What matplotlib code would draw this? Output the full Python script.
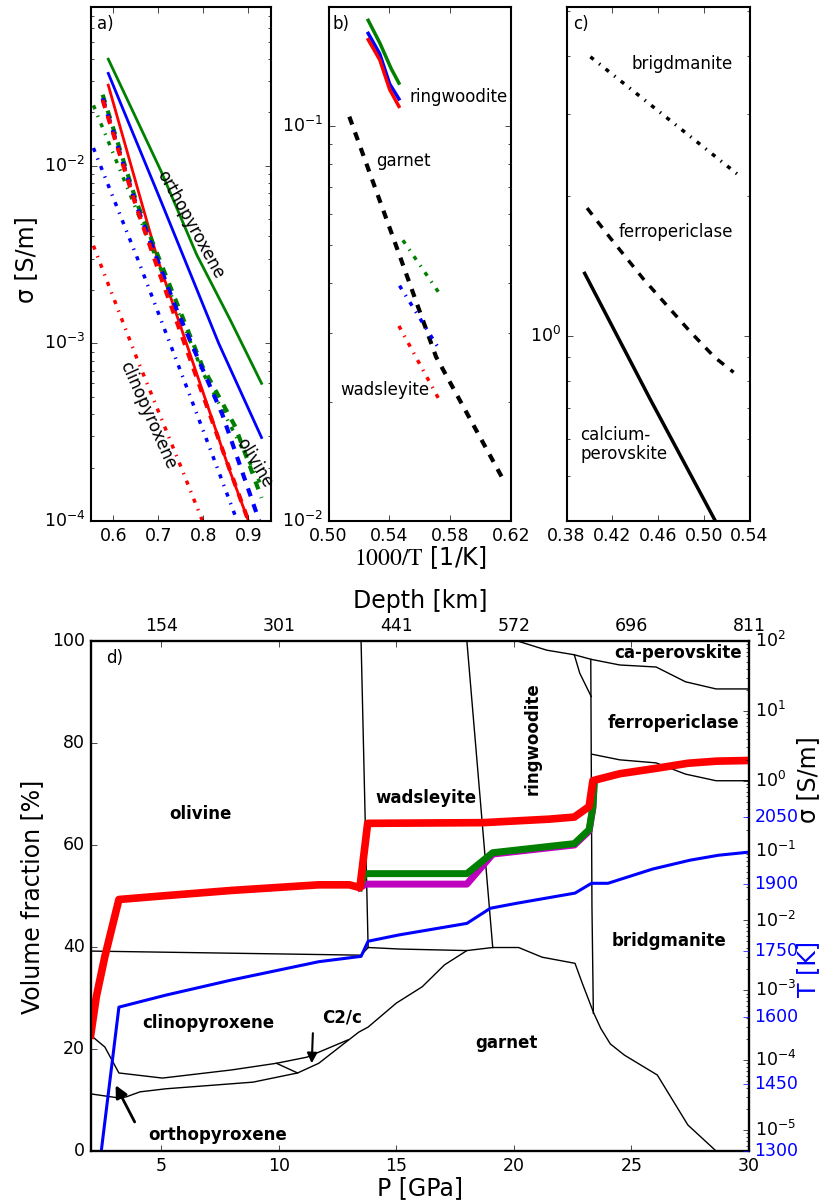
import matplotlib.pyplot as plt
import numpy as np

plt.style.use('classic')
plt.rcParams['figure.facecolor'] = 'white'
plt.rcParams['savefig.facecolor'] = 'white'
plt.rcParams['mathtext.fontset'] = 'dejavusans'
plt.rcParams['font.family'] = ['DejaVu Sans']
plt.rcParams['font.size'] = 12.5
plt.rcParams['axes.linewidth'] = 1.5

# ---------------- panel a) olivine / opx / cpx  (x = 1000/T, y = log10 sigma)
opx_g_x = [0.589, 0.706, 0.785, 0.86, 0.929]
opx_g_y = [-1.40, -2.03, -2.50, -2.87, -3.225]
opx_b_x = [0.589, 0.706, 0.834, 0.929]
opx_b_y = [-1.48, -2.20, -3.00, -3.53]
opx_r_x = [0.589, 0.699, 0.761, 0.856, 0.90]
opx_r_y = [-1.546, -2.531, -2.99, -3.70, -4.0]

ol_g_x = [0.5765, 0.651, 0.739, 0.798, 0.871, 0.929]
ol_g_y = [-1.60, -2.20, -2.76, -3.13, -3.47, -3.87]
ol_b_x = [0.5765, 0.651, 0.739, 0.842, 0.924]
ol_b_y = [-1.62, -2.22, -2.80, -3.40, -4.0]
ol_r_x = [0.5765, 0.651, 0.699, 0.834, 0.90]
ol_r_y = [-1.63, -2.23, -2.58, -3.54, -4.0]

cpx_g_x = [0.556, 0.6145, 0.70, 0.80, 0.929]
cpx_g_y = [-1.66, -2.02, -2.55, -3.17, -3.80]
cpx_b_x = [0.556, 0.655, 0.768, 0.827, 0.875]
cpx_b_y = [-1.90, -2.53, -3.28, -3.675, -4.0]
cpx_r_x = [0.556, 0.651, 0.75, 0.798]
cpx_r_y = [-2.45, -3.075, -3.694, -4.0]

# ---------------- panel b) ringwoodite / garnet / wadsleyite
rw_g_x = [0.5261, 0.5337, 0.5413, 0.5463]
rw_g_y = [-0.732, -0.789, -0.855, -0.891]
rw_b_x = [0.5261, 0.5337, 0.5402, 0.5463]
rw_b_y = [-0.765, -0.817, -0.893, -0.931]
rw_r_x = [0.5261, 0.5337, 0.5402, 0.5463]
rw_r_y = [-0.781, -0.832, -0.907, -0.950]
gt_x = [0.5137, 0.5424, 0.5707, 0.6163]
gt_y = [-0.976, -1.281, -1.584, -1.905]
wd_g_x = [0.5489, 0.5728]
wd_g_y = [-1.289, -1.423]
wd_b_x = [0.5467, 0.5728]
wd_b_y = [-1.404, -1.565]
wd_r_x = [0.5463, 0.5728]
wd_r_y = [-1.506, -1.693]

# ---------------- panel c) lower mantle phases
bm_x = [0.4009, 0.4646, 0.5307]
bm_y = [0.601, 0.476, 0.346]
fp_x = [0.398, 0.4183, 0.4472, 0.4878, 0.5096, 0.5261]
fp_y = [0.2755, 0.211, 0.123, 0.0104, -0.0458, -0.0779]
capv_x = [0.3959, 0.4530, 0.5104]
capv_y = [0.135, -0.135, -0.399]

# ---------------- panel d) phase volume fractions vs pressure
bnd_ol_x = [2.0, 13.5, 13.8, 15.15, 18.0, 19.1, 20.2, 21.2, 22.6, 22.9, 23.4, 23.7,
            24.1, 24.7, 26.1, 27.4, 28.6]
bnd_ol_y = [39.2, 38.4, 39.9, 39.6, 39.3, 39.9, 39.9, 38.0, 36.8, 33.0, 27.0, 24.0,
            21.0, 18.8, 14.9, 5.1, 0.0]
bnd_cpx_x = [2.0, 2.6, 3.2, 5.05, 8.0, 9.9, 11.2, 12.95]
bnd_cpx_y = [22.7, 20.4, 15.3, 14.3, 15.9, 17.2, 18.4, 21.8]
bnd_gt_x = [2.0, 3.2, 3.5, 4.1, 5.2, 8.9, 10.8, 11.7, 12.7, 13.4, 13.8, 15.0, 16.1, 17.05, 18.0]
bnd_gt_y = [11.2, 10.4, 10.6, 11.6, 12.2, 13.5, 15.3, 17.2, 20.8, 23.3, 24.3, 29.0, 32.2, 36.5, 39.3]
bnd_c2c_x = [9.9, 10.8]
bnd_c2c_y = [17.2, 15.3]
bnd_wd_x = [13.5, 13.8]
bnd_wd_y = [100, 39.9]
bnd_rw_x = [18.0, 19.1]
bnd_rw_y = [100, 39.9]
bnd_rwtop_x = [20.15, 21.4, 22.57, 22.8, 23.29]
bnd_rwtop_y = [100, 98.2, 97.3, 93.7, 89.1]
bnd_capv_x = [22.57, 23.29, 24.5, 26.05, 27.3, 28.6, 30.0]
bnd_capv_y = [97.3, 96.4, 95.3, 94.9, 92.0, 90.6, 90.6]
bnd_ps_x = [23.27, 23.32, 23.38]
bnd_ps_y = [96.4, 48.0, 27.0]
bnd_fp_x = [23.32, 24.5, 26.05, 27.3, 28.6, 30.0]
bnd_fp_y = [77.8, 76.7, 76.1, 73.9, 72.6, 72.6]

# bulk conductivity (log10 S/m) and temperature along the profile
sig_r_P = [2.0, 2.24, 2.6, 3.2, 5.0, 8.0, 11.7, 13.0, 13.45, 13.78, 18.7, 21.5, 22.57,
           23.2, 23.36, 23.57, 24.5, 26.1, 27.4, 28.6, 30.0]
sig_r_y = [-3.64, -3.09, -2.52, -1.70, -1.65, -1.57, -1.49, -1.49, -1.53, -0.61, -0.60,
           -0.55, -0.52, -0.37, 0.0, 0.02, 0.10, 0.18, 0.25, 0.28, 0.29]
sig_g_P = [13.45, 13.65, 18.0, 19.1, 21.5, 22.57, 23.2, 23.36, 23.42]
sig_g_y = [-1.53, -1.33, -1.33, -1.03, -0.94, -0.90, -0.70, -0.37, 0.0]
sig_m_P = [13.45, 13.7, 18.0, 19.1, 21.5, 22.57, 23.2, 23.36, 23.42]
sig_m_y = [-1.53, -1.48, -1.48, -1.05, -0.96, -0.92, -0.72, -0.39, 0.0]
temp_P = [2.45, 3.2, 5.2, 8.0, 11.7, 13.5, 13.8, 15.1, 18.0, 19.0, 20.1, 22.6, 23.3, 24.0,
          25.9, 27.5, 28.7, 30.0]
temp_T = [1300, 1623, 1650, 1684, 1725, 1737, 1771, 1785, 1811, 1845, 1856, 1879, 1901,
          1901, 1933, 1953, 1964, 1971]

p_ticks = [5, 10, 15, 20, 25, 30]
depth_labels = ['154', '301', '441', '572', '696', '811']
t_ticks = [1300, 1450, 1600, 1750, 1900, 2050]
sig_ticks = [1e-5, 1e-4, 1e-3, 1e-2, 1e-1, 1e0, 1e1, 1e2]

W, H = 821, 1204
fig = plt.figure(figsize=(W / 100, H / 100), dpi=100)


def box(x0, x1, y0, y1):
    return [x0 / W, 1 - y1 / H, (x1 - x0) / W, (y1 - y0) / H]


ax_a = fig.add_axes(box(90.7, 271, 7.3, 521))
ax_b = fig.add_axes(box(328.5, 511, 7.3, 521))
ax_c = fig.add_axes(box(566.5, 749.5, 7.3, 521))
ax_d = fig.add_axes(box(90.7, 749, 641, 1151))

p10 = lambda v: 10 ** np.array(v)

# panel a
ax_a.plot(opx_g_x, p10(opx_g_y), '-', color='g', lw=2)
ax_a.plot(opx_b_x, p10(opx_b_y), '-', color='b', lw=2)
ax_a.plot(opx_r_x, p10(opx_r_y), '-', color='r', lw=2)
ax_a.plot(cpx_g_x, p10(cpx_g_y), '-.', color='g', lw=2.5)
ax_a.plot(cpx_b_x, p10(cpx_b_y), '-.', color='b', lw=2.5)
ax_a.plot(cpx_r_x, p10(cpx_r_y), '-.', color='r', lw=2.5)
ax_a.plot(ol_g_x, p10(ol_g_y), '--', color='g', lw=3)
ax_a.plot(ol_b_x, p10(ol_b_y), '--', color='b', lw=3)
ax_a.plot(ol_r_x, p10(ol_r_y), '--', color='r', lw=3)
ax_a.set_yscale('log')
ax_a.set_xlim(0.55, 0.95)
ax_a.set_ylim(1e-4, 0.078)
ax_a.set_xticks([0.6, 0.7, 0.8, 0.9])
ax_a.text(0.772, 10 ** -2.33, 'orthopyroxene', rotation=-61, ha='center', va='center',
          rotation_mode='anchor', fontsize=12)
ax_a.text(0.913, 10 ** -3.673, 'olivine', rotation=-59, ha='center', va='center',
          rotation_mode='anchor', fontsize=12)
ax_a.text(0.677, 10 ** -3.402, 'clinopyroxene', rotation=-66, ha='center', va='center',
          rotation_mode='anchor', fontsize=12)
ax_a.text(0.035, 0.968, 'a)', transform=ax_a.transAxes, va='center', fontsize=12)

# panel b
ax_b.plot(rw_g_x, p10(rw_g_y), '-', color='g', lw=2.5)
ax_b.plot(rw_b_x, p10(rw_b_y), '-', color='b', lw=2.5)
ax_b.plot(rw_r_x, p10(rw_r_y), '-', color='r', lw=2.5)
ax_b.plot(gt_x, p10(gt_y), '--', color='k', lw=3)
ax_b.plot(wd_g_x, p10(wd_g_y), '-.', color='g', lw=2.5)
ax_b.plot(wd_b_x, p10(wd_b_y), '-.', color='b', lw=2.5)
ax_b.plot(wd_r_x, p10(wd_r_y), '-.', color='r', lw=2.5)
ax_b.set_yscale('log')
ax_b.set_xlim(0.50, 0.62)
ax_b.set_ylim(0.01, 0.2)
ax_b.set_xticks([0.50, 0.54, 0.58, 0.62])
ax_b.set_xticklabels(['0.50', '0.54', '0.58', '0.62'])
ax_b.text(0.5535, 10 ** -0.926, 'ringwoodite', va='center', fontsize=12)
ax_b.text(0.5315, 10 ** -1.089, 'garnet', va='center', fontsize=12)
ax_b.text(0.5076, 10 ** -1.667, 'wadsleyite', va='center', fontsize=12)
ax_b.text(0.02, 0.968, 'b)', transform=ax_b.transAxes, va='center', fontsize=12)

# panel c
ax_c.plot(bm_x, p10(bm_y), '-.', color='k', lw=2.5)
ax_c.plot(fp_x, p10(fp_y), '--', color='k', lw=2.5)
ax_c.plot(capv_x, p10(capv_y), '-', color='k', lw=2.5)
ax_c.set_yscale('log')
ax_c.set_xlim(0.38, 0.54)
ax_c.set_ylim(0.4, 5.1)
ax_c.set_xticks([0.38, 0.42, 0.46, 0.50, 0.54])
ax_c.set_xticklabels(['0.38', '0.42', '0.46', '0.50', '0.54'])
ax_c.text(0.4371, 10 ** 0.585, 'brigdmanite', va='center', fontsize=12)
ax_c.text(0.4255, 10 ** 0.223, 'ferropericlase', va='center', fontsize=12)
ax_c.text(0.3922, 10 ** -0.233, 'calcium-\nperovskite', va='center', fontsize=12,
          linespacing=1.1)
ax_c.text(0.037, 0.968, 'c)', transform=ax_c.transAxes, va='center', fontsize=12)

fig.text(26 / W, 1 - 260 / H, u'\u03c3 [S/m]', rotation=90, ha='center', va='center',
         fontsize=17)
fig.text(420 / W, 1 - 558 / H, r'$\mathrm{1000/T}$ [1/K]', ha='center', va='center',
         fontsize=17, math_fontfamily='stix')

# panel d
for bx, by in [(bnd_ol_x, bnd_ol_y), (bnd_cpx_x, bnd_cpx_y), (bnd_gt_x, bnd_gt_y),
               (bnd_c2c_x, bnd_c2c_y), (bnd_wd_x, bnd_wd_y), (bnd_rw_x, bnd_rw_y),
               (bnd_rwtop_x, bnd_rwtop_y), (bnd_capv_x, bnd_capv_y),
               (bnd_ps_x, bnd_ps_y), (bnd_fp_x, bnd_fp_y)]:
    ax_d.plot(bx, by, '-', color='k', lw=1)
ax_d.set_xlim(2, 30)
ax_d.set_ylim(0, 100)
ax_d.set_xticks(p_ticks)
ax_d.set_yticks([0, 20, 40, 60, 80, 100])

bold = dict(fontsize=12, fontweight='bold', ha='center', va='center')
ax_d.text(6.65, 66, 'olivine', **bold)
ax_d.text(16.25, 69.2, 'wadsleyite', **bold)
ax_d.text(20.8, 80.8, 'ringwoodite', rotation=90, **bold)
ax_d.text(27.0, 97.6, 'ca-perovskite', **bold)
ax_d.text(26.8, 84.0, 'ferropericlase', **bold)
ax_d.text(26.6, 41.2, 'bridgmanite', **bold)
ax_d.text(19.7, 21.2, 'garnet', **bold)
ax_d.text(7.0, 25.0, 'clinopyroxene', **bold)
ax_d.text(12.7, 26.2, 'C2/c', **bold)
ax_d.text(7.4, 3.1, 'orthopyroxene', **bold)
ax_d.annotate('', xy=(3.06, 12.9), xytext=(3.87, 5.7),
              arrowprops=dict(arrowstyle='-|>', color='k', lw=2, mutation_scale=18,
                              shrinkA=0, shrinkB=0))
ax_d.annotate('', xy=(11.4, 17.2), xytext=(11.45, 23.1),
              arrowprops=dict(arrowstyle='-|>', color='k', lw=1.5, mutation_scale=15,
                              shrinkA=0, shrinkB=0))
ax_d.text(0.023, 0.967, 'd)', transform=ax_d.transAxes, va='center', fontsize=12)

ax_top = ax_d.twiny()
ax_top.set_xlim(2, 30)
ax_top.set_xticks(p_ticks)
ax_top.set_xticklabels(depth_labels)

ax_s = ax_d.twinx()
ax_s.plot(sig_m_P, p10(sig_m_y), '-', color='m', lw=5)
ax_s.plot(sig_g_P, p10(sig_g_y), '-', color='g', lw=5)
ax_s.plot(sig_r_P, p10(sig_r_y), '-', color='r', lw=5.5)
ax_s.set_yscale('log')
ax_s.set_ylim(10 ** -5.3, 100)
ax_s.set_yticks(sig_ticks)
ax_s.set_xlim(2, 30)

ax_T = ax_d.twinx()
ax_T.plot(temp_P, temp_T, '-', color='b', lw=2.2)
ax_T.set_ylim(1300, 2445)
ax_T.set_yticks(t_ticks)
ax_T.tick_params(axis='y', colors='b')
ax_T.set_xlim(2, 30)

fig.text(32 / W, 1 - 897 / H, 'Volume fraction [%]', rotation=90, ha='center',
         va='center', fontsize=17)
fig.text(420 / W, 1 - 1188 / H, 'P [GPa]', ha='center', va='center', fontsize=17)
fig.text(420 / W, 1 - 601 / H, 'Depth [km]', ha='center', va='center', fontsize=17)
fig.text(808 / W, 1 - 780 / H, u'\u03c3 [S/m]', rotation=90, ha='center', va='center',
         fontsize=17)
fig.text(808 / W, 1 - 969 / H, 'T [K]', rotation=90, ha='center', va='center',
         fontsize=17, color='b')

fig.savefig('out.png', dpi=100)
